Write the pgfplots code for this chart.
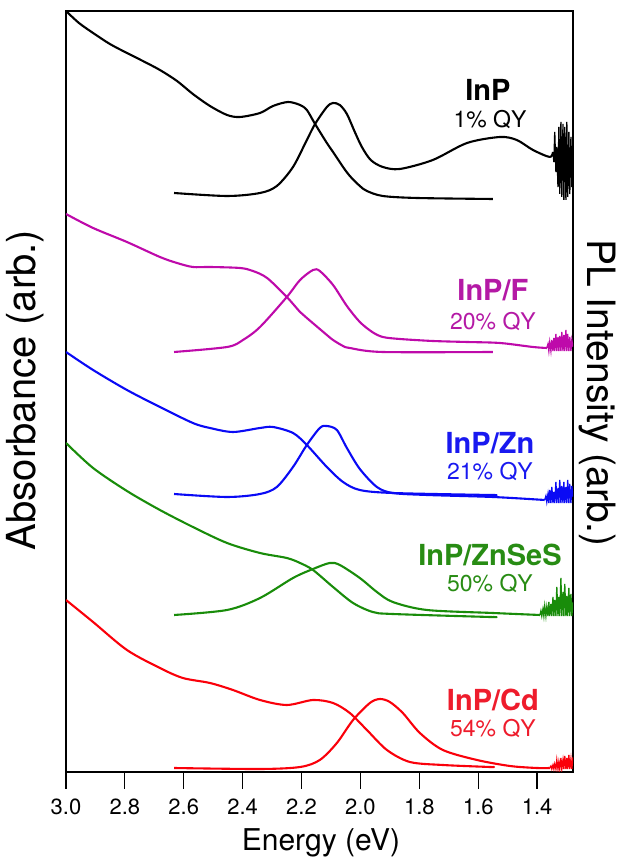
\documentclass[border=0pt]{standalone}
\usepackage{pgfplots}
\pgfplotsset{compat=1.18}
\usepackage{fontspec}
\setmainfont{TeX Gyre Heros}
\definecolor{cK}{RGB}{0,0,0}
\definecolor{cF}{RGB}{190,10,170}
\definecolor{cZ}{RGB}{10,10,245}
\definecolor{cS}{RGB}{25,140,10}
\definecolor{cC}{RGB}{250,0,10}
\definecolor{tF}{RGB}{180,25,165}
\definecolor{tZ}{RGB}{25,25,240}
\definecolor{tS}{RGB}{40,140,20}
\definecolor{tC}{RGB}{238,28,44}
\newcommand{\nm}{\fontsize{29}{29}\selectfont\bfseries}
\newcommand{\qy}{\fontsize{23}{23}\selectfont}
\begin{document}
\begin{tikzpicture}[x=1pt,y=1pt]
\useasboundingbox (0,0) rectangle (618,858);
\begin{axis}[at={(66pt,86pt)}, anchor=south west, scale only axis,
  width=507pt, height=761pt,
  xmin=1.278, xmax=3.0, x dir=reverse, ymin=0, ymax=761,
  ytick=\empty, xtick={1.4,1.6,1.8,2.0,2.2,2.4,2.6,2.8,3.0},
  xtick pos=left, tick align=outside, major tick length=17pt,
  axis line style={line width=1.2pt},
  every tick/.style={line width=1.2pt, black},
  xticklabel style={font=\fontsize{22}{22}\selectfont, yshift=-6pt},
  /pgf/number format/.cd, fixed, fixed zerofill, precision=1, assume math mode=true,
  /pgfplots/.cd,
  every axis plot/.append style={line width=2.1pt, line join=round},
  sm/.style={smooth, tension=0.5},
  nz/.style={line width=1.3pt, line join=miter},
]
% InP absorbance
\addplot[cK, sm] coordinates {(3.0,761)(2.956,749)(2.908,739)(2.851,728)(2.793,719)(2.739,711)(2.681,702)(2.623,691)(2.569,678)(2.511,666)(2.453,657)(2.409,655)(2.341,659)(2.297,666)(2.246,670)(2.205,667)(2.182,662)(2.154,648)(2.114,629)(2.093,620)(2.059,605)(2.036,596)(2.002,586)(1.978,581)(1.924,576)(1.808,574)(1.550,573)};
% InP PL
\addplot[cK, sm] coordinates {(2.633,579)(2.453,576)(2.341,579)(2.284,586)(2.229,605)(2.182,632)(2.154,648)(2.114,665)(2.093,669)(2.070,667)(2.046,658)(2.019,640)(1.995,625)(1.965,612)(1.924,605)(1.866,603)(1.754,612)(1.638,629)(1.526,635)(1.469,632)(1.414,622)(1.357,615)(1.346,620)};
\addplot[cK, nz] coordinates {(1.346,620)(1.343,610)(1.340,640)(1.336,600)(1.333,625)(1.329,585)(1.326,645)(1.323,578)(1.319,650)(1.316,575)(1.312,648)(1.309,572)(1.306,645)(1.302,572)(1.299,650)(1.296,575)(1.292,640)(1.289,578)(1.285,635)(1.282,585)(1.278,620)};
% InP/F absorbance
\addplot[cF, sm] coordinates {(3.0,558)(2.908,544)(2.793,530)(2.681,515)(2.623,509)(2.569,505)(2.511,505)(2.409,504)(2.365,501)(2.317,494)(2.250,475)(2.205,460)(2.182,454)(2.114,437)(2.093,432)(2.059,426)(2.036,424)(1.924,420)(1.550,420)};
% InP/F PL
\addplot[cF, sm] coordinates {(2.633,420)(2.453,425)(2.399,432)(2.341,445)(2.250,475)(2.205,492)(2.161,502)(2.138,501)(2.093,487)(2.046,466)(2.002,450)(1.960,440)(1.924,435)(1.866,433)(1.754,431)(1.638,430)(1.526,429)(1.414,425)(1.367,424)};
\addplot[cF, nz] coordinates {(1.367,424)(1.363,428)(1.360,421)(1.357,430)(1.353,421)(1.350,432)(1.346,421)(1.343,434)(1.340,421)(1.336,438)(1.333,421)(1.329,435)(1.326,421)(1.323,436)(1.319,421)(1.316,440)(1.312,421)(1.309,437)(1.306,421)(1.302,442)(1.299,421)(1.296,438)(1.292,421)(1.289,435)(1.285,421)(1.282,432)(1.278,425)};
% InP/Zn absorbance
\addplot[cZ, sm] coordinates {(3.0,420)(2.908,402)(2.793,382)(2.681,365)(2.569,349)(2.511,344)(2.433,340)(2.341,344)(2.297,345)(2.229,339)(2.182,327)(2.114,305)(2.059,290)(2.002,282)(1.890,279)(1.560,277)(1.550,277)};
% InP/Zn PL
\addplot[cZ, sm] coordinates {(2.633,278)(2.453,275)(2.341,278)(2.284,285)(2.229,305)(2.182,327)(2.138,344)(2.114,346)(2.080,342)(2.046,324)(2.002,303)(1.944,285)(1.890,279)(1.774,277)(1.550,275)(1.374,272)};
\addplot[cZ, nz] coordinates {(1.374,272)(1.370,276)(1.367,270)(1.363,278)(1.360,269)(1.357,282)(1.353,269)(1.350,285)(1.346,269)(1.343,280)(1.340,269)(1.336,290)(1.333,269)(1.329,284)(1.326,269)(1.323,292)(1.319,269)(1.316,286)(1.312,269)(1.309,290)(1.306,269)(1.302,285)(1.299,269)(1.296,292)(1.292,269)(1.289,288)(1.285,269)(1.282,286)(1.278,275)};
% InP/ZnSeS absorbance
\addplot[cS, sm] coordinates {(3.0,329)(2.908,304)(2.793,281)(2.681,262)(2.569,245)(2.453,229)(2.341,219)(2.250,214)(2.205,209)(2.161,202)(2.093,185)(2.025,169)(1.958,160)(1.890,158)(1.560,155)(1.550,155)};
% InP/ZnSeS PL
\addplot[cS, sm] coordinates {(2.633,157)(2.453,162)(2.341,174)(2.229,194)(2.161,203)(2.104,209)(2.070,207)(2.002,194)(1.944,180)(1.890,170)(1.774,162)(1.550,159)(1.390,157)};
\addplot[cS, nz] coordinates {(1.390,157)(1.387,161)(1.384,156)(1.380,163)(1.377,156)(1.374,166)(1.370,156)(1.367,165)(1.363,156)(1.360,170)(1.357,156)(1.353,168)(1.350,156)(1.346,175)(1.343,156)(1.340,172)(1.336,156)(1.333,185)(1.329,156)(1.326,175)(1.323,156)(1.319,194)(1.316,156)(1.312,180)(1.309,156)(1.306,188)(1.302,156)(1.299,176)(1.296,156)(1.292,184)(1.289,156)(1.285,178)(1.282,156)(1.278,170)};
% InP/Cd absorbance
\addplot[cC, sm] coordinates {(3.0,172)(2.908,150)(2.793,122)(2.681,104)(2.603,94)(2.511,89)(2.433,82)(2.341,72)(2.250,67)(2.161,72)(2.093,69)(2.036,59)(1.978,42)(1.910,22)(1.832,10)(1.720,7)(1.560,5)(1.550,5)};
% InP/Cd PL
\addplot[cC, sm] coordinates {(2.633,4)(2.341,3)(2.205,5)(2.138,12)(2.080,29)(2.025,52)(1.968,69)(1.934,73)(1.900,70)(1.856,59)(1.798,39)(1.720,22)(1.604,12)(1.492,6)(1.401,4)(1.357,4)};
\addplot[cC, nz] coordinates {(1.357,4)(1.353,6)(1.350,3)(1.346,7)(1.343,3)(1.340,8)(1.336,3)(1.333,12)(1.329,3)(1.326,10)(1.323,3)(1.319,14)(1.316,3)(1.312,12)(1.309,3)(1.306,16)(1.302,3)(1.299,14)(1.296,3)(1.292,17)(1.289,3)(1.285,13)(1.282,3)(1.278,15)};
% labels
\node[font=\nm, text=black] at (axis cs:1.567,682) {InP};
\node[font=\qy, text=black] at (axis cs:1.560,652) {1\% QY};
\node[font=\nm, text=tF] at (axis cs:1.550,482) {InP/F};
\node[font=\qy, text=tF] at (axis cs:1.550,450) {20\% QY};
\node[font=\nm, text=tZ] at (axis cs:1.560,329) {InP/Zn};
\node[font=\qy, text=tZ] at (axis cs:1.560,300) {21\% QY};
\node[font=\nm, text=tS] at (axis cs:1.560,217) {InP/ZnSeS};
\node[font=\qy, text=tS] at (axis cs:1.560,188) {50\% QY};
\node[font=\nm, text=tC] at (axis cs:1.550,72) {InP/Cd};
\node[font=\qy, text=tC] at (axis cs:1.550,43) {54\% QY};
\end{axis}
\node[anchor=base, font=\fontsize{30}{30}\selectfont] at (321,7) {Energy (eV)};
\node[rotate=90, font=\fontsize{40}{40}\selectfont] at (25,468) {Absorbance (arb.)};
\node[rotate=-90, font=\fontsize{39}{39}\selectfont] at (597,465) {PL Intensity (arb.)};
\end{tikzpicture}
\end{document}
